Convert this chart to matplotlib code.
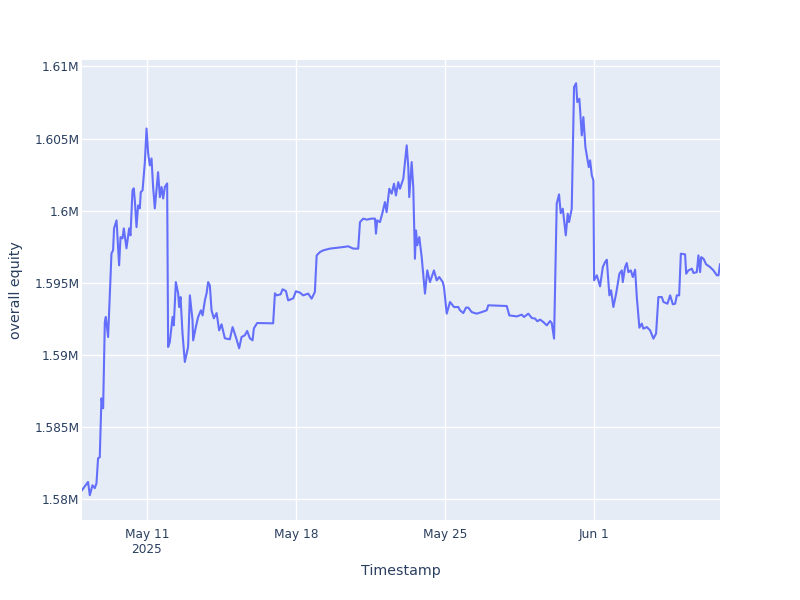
import matplotlib
matplotlib.use("Agg")
import matplotlib.pyplot as plt
import numpy as np
import pandas as pd

plt.rcParams['font.family'] = ['DejaVu Sans']

# hours relative to 2025-05-11 00:00, equity in thousands
hours = [-73.0, -66.2, -64.2, -61.2, -58.6, -56.7, -54.9, -53.0, -51.1, -49.2,
         -47.3, -46.2, -43.6, -39.8, -38.0, -36.9, -34.1, -31.2, -29.6, -27.4,
         -25.9, -22.9, -19.9, -18.4, -16.1, -14.7, -13.5, -11.6, -9.8, -7.9,
         -6.8, -4.8, -2.3, -0.3, 1.5, 3.4, 5.3, 7.1, 9.0, 12.7,
         14.7, 16.6, 18.4, 20.3, 22.9, 23.3, 24.0, 25.9, 29.0, 30.4,
         32.7, 35.3, 36.4, 38.0, 40.2, 42.8, 46.5, 48.5, 51.5, 52.2,
         55.2, 57.8, 60.9, 62.8, 65.4, 67.3, 69.1, 71.0, 72.9, 75.5,
         78.6, 81.5, 84.2, 87.9, 93.5, 96.6, 100.3, 104.0, 106.7, 110.4,
         113.0, 116.1, 119.1, 120.6, 124.3, 142.3, 144.3, 146.2, 150.7, 152.9,
         156.7, 159.2, 164.9, 167.9, 172.4, 176.1, 181.8, 185.6, 189.3, 191.3,
         195.0, 198.7, 206.2, 221.2, 226.9, 232.5, 238.1, 240.1, 243.8, 247.6,
         253.2, 257.0, 258.1, 259.5, 262.6, 265.6, 268.2, 270.1, 273.1, 275.8,
         278.4, 280.6, 283.2, 285.1, 288.9, 290.8, 292.7, 294.5, 295.6, 298.3,
         300.1, 302.0, 303.2, 304.6, 306.9, 309.6, 313.3, 315.9, 318.9, 323.4,
         326.5, 329.4, 333.3, 334.7, 337.8, 341.5, 346.0, 350.8, 352.8, 356.5,
         359.5, 362.1, 365.9, 371.6, 377.2, 382.8, 384.6, 405.4, 408.3, 416.7,
         422.3, 424.9, 429.7, 433.6, 437.3, 439.9, 442.9, 446.6, 450.5, 454.2,
         456.1, 458.7, 461.7, 464.3, 466.2, 468.5, 471.9, 474.1, 475.6, 478.6,
         481.2, 483.5, 484.9, 487.2, 489.9, 491.7, 494.0, 496.2, 497.8, 499.3,
         501.2, 503.0, 503.8, 506.8, 508.6, 510.5, 513.6, 516.2, 518.1, 521.0,
         522.9, 525.5, 528.6, 532.3, 535.0, 536.1, 538.7, 540.6, 542.4, 545.1,
         547.4, 550.0, 551.9, 554.8, 557.5, 559.3, 563.2, 566.9, 570.6, 573.6,
         576.2, 580.1, 581.9, 586.4, 589.4, 592.5, 595.1, 597.0, 599.6, 601.5,
         606.3, 607.5, 610.0, 613.9, 615.7, 619.5, 621.3, 623.2, 624.4, 627.0,
         630.0, 634.5, 638.2, 642.0, 643.9, 645.6]

equity_k = [1580.62, 1581.19, 1580.27, 1580.96, 1580.76, 1581.10, 1582.83, 1582.90, 1586.99, 1586.30,
            1592.28, 1592.63, 1591.24, 1597.04, 1597.25, 1598.77, 1599.33, 1596.21, 1598.17, 1598.08,
            1598.77, 1597.39, 1598.77, 1598.29, 1601.41, 1601.55, 1600.71, 1598.86, 1600.37, 1600.16,
            1601.29, 1601.41, 1603.28, 1605.70, 1603.97, 1603.14, 1603.62, 1601.64, 1600.16, 1602.67,
            1600.94, 1601.64, 1600.85, 1601.64, 1601.89, 1597.48, 1590.55, 1590.89, 1592.63, 1592.05,
            1595.05, 1594.27, 1593.32, 1594.01, 1591.50, 1589.51, 1590.55, 1594.13, 1592.40, 1591.01,
            1591.93, 1592.63, 1593.09, 1592.74, 1593.78, 1594.27, 1595.05, 1594.82, 1593.09, 1592.54,
            1592.90, 1591.70, 1592.12, 1591.15, 1591.08, 1591.93, 1591.24, 1590.46, 1591.24, 1591.36,
            1591.66, 1591.15, 1591.01, 1591.84, 1592.21, 1592.19, 1594.27, 1594.13, 1594.20, 1594.55,
            1594.43, 1593.78, 1593.92, 1594.41, 1594.32, 1594.13, 1594.25, 1593.90, 1594.36, 1596.90,
            1597.13, 1597.25, 1597.37, 1597.48, 1597.53, 1597.37, 1597.37, 1599.21, 1599.45, 1599.38,
            1599.45, 1599.45, 1598.41, 1599.33, 1599.21, 1599.90, 1600.60, 1599.90, 1601.52, 1601.18,
            1601.87, 1601.06, 1601.98, 1601.52, 1602.22, 1603.37, 1604.53, 1603.02, 1600.94, 1603.37,
            1601.64, 1596.67, 1598.63, 1597.60, 1598.17, 1596.78, 1594.25, 1595.86, 1595.05, 1595.86,
            1595.17, 1595.40, 1595.05, 1594.71, 1592.86, 1593.67, 1593.32, 1593.32, 1593.09, 1592.90,
            1593.28, 1593.28, 1592.97, 1592.86, 1592.97, 1593.09, 1593.44, 1593.39, 1592.74, 1592.67,
            1592.79, 1592.63, 1592.86, 1592.56, 1592.52, 1592.33, 1592.45, 1592.28, 1592.05, 1592.35,
            1592.21, 1591.13, 1600.49, 1601.13, 1599.83, 1600.14, 1598.29, 1599.79, 1599.21, 1600.14,
            1608.57, 1608.84, 1607.53, 1607.76, 1605.22, 1606.49, 1604.41, 1603.60, 1603.02, 1603.49,
            1602.45, 1602.10, 1595.17, 1595.52, 1595.17, 1594.75, 1596.09, 1596.44, 1596.60, 1594.13,
            1594.48, 1593.32, 1594.25, 1595.63, 1595.86, 1595.05, 1596.09, 1596.37, 1595.74, 1595.86,
            1595.40, 1595.91, 1594.01, 1591.89, 1592.17, 1591.82, 1591.93, 1591.70, 1591.13, 1591.48,
            1594.01, 1594.01, 1593.67, 1593.55, 1594.13, 1593.51, 1593.55, 1594.13, 1594.13, 1597.02,
            1596.97, 1595.63, 1595.86, 1595.98, 1595.68, 1595.74, 1596.90, 1595.74, 1596.78, 1596.67,
            1596.28, 1596.09, 1595.86, 1595.52, 1595.52, 1596.28]

base = pd.Timestamp("2025-05-11")
ts = base + pd.to_timedelta(hours, unit="h")
equity = np.array(equity_k) * 1000

yticks = [1580000, 1585000, 1590000, 1595000, 1600000, 1605000, 1610000]
ytick_labels = ["1.58M", "1.585M", "1.59M", "1.595M", "1.6M", "1.605M", "1.61M"]
xtick_dates = ["2025-05-11", "2025-05-18", "2025-05-25", "2025-06-01"]
xtick_labels = ["May 11\n2025", "May 18", "May 25", "Jun 1"]

txt = "#2a3f5f"
fig = plt.figure(figsize=(8, 6), dpi=100)
ax = fig.add_axes([0.1025, 0.1333, 0.7975, 0.7667])
ax.set_facecolor("#E5ECF6")
ax.plot(ts, equity, color="#636EFA", lw=1.5, zorder=3)

ax.set_xlim(ts[0], ts[-1])
ax.set_ylim(1578550, 1610450)
ax.set_yticks(yticks)
ax.set_yticklabels(ytick_labels)
ax.set_xticks(pd.to_datetime(xtick_dates))
ax.set_xticklabels(xtick_labels, linespacing=1.15)
ax.grid(True, color="white", lw=1, zorder=0)
ax.set_axisbelow(True)
for s in ax.spines.values():
    s.set_visible(False)
ax.tick_params(axis="x", length=0, labelsize=8.7, colors=txt, pad=6)
ax.tick_params(axis="y", length=0, labelsize=8.7, colors=txt, pad=2)
ax.set_xlabel("Timestamp", fontsize=10.3, color=txt, labelpad=6)
ax.set_ylabel("overall equity", fontsize=10.3, color=txt, labelpad=8)

fig.savefig("out.png", dpi=100)
